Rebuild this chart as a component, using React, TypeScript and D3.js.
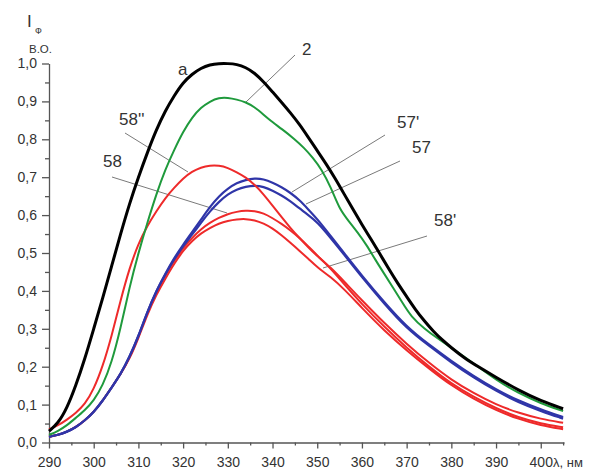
import * as d3 from "d3";
import { useEffect, useRef } from "react";

// wavelength grid (nm) and intensity values
const blackX = [290, 292, 294, 296, 298, 300, 302, 304, 306, 308, 310, 312, 314, 316, 318, 320, 322, 324, 326, 328, 330, 332, 334, 336, 338, 340, 342, 344, 346, 348, 350, 352, 354, 356, 358, 360, 362, 364, 366, 368, 370, 372, 374, 376, 378, 380, 383, 386, 390, 395, 400, 405];
const blackY = [0.03, 0.05, 0.09, 0.15, 0.22, 0.3, 0.38, 0.465, 0.55, 0.63, 0.7, 0.765, 0.825, 0.875, 0.915, 0.95, 0.972, 0.988, 0.997, 1.0, 1.0, 0.998, 0.99, 0.975, 0.952, 0.925, 0.898, 0.87, 0.84, 0.805, 0.77, 0.735, 0.697, 0.656, 0.615, 0.575, 0.537, 0.498, 0.458, 0.42, 0.385, 0.35, 0.32, 0.293, 0.27, 0.25, 0.222, 0.2, 0.172, 0.138, 0.11, 0.089];

const greenX = [290, 292, 294, 296, 298, 300, 302, 304, 306, 308, 310, 312, 314, 316, 318, 320, 322, 324, 326, 328, 330, 332, 334, 336, 338, 340, 342, 345, 347, 349, 351, 353, 355, 357, 359, 361, 363, 365, 367, 369, 371, 374, 377, 380, 386, 390, 395, 400, 405];
const greenY = [0.02, 0.03, 0.045, 0.065, 0.085, 0.11, 0.15, 0.21, 0.3, 0.41, 0.5, 0.58, 0.655, 0.72, 0.772, 0.82, 0.858, 0.884, 0.9, 0.91, 0.91, 0.905, 0.898, 0.885, 0.865, 0.845, 0.828, 0.8, 0.778, 0.752, 0.72, 0.675, 0.615, 0.585, 0.555, 0.522, 0.482, 0.445, 0.408, 0.37, 0.332, 0.3, 0.274, 0.25, 0.2, 0.165, 0.13, 0.103, 0.083];

const red58ppX = [290, 292, 294, 296, 298, 300, 302, 304, 306, 308, 310, 312, 314, 316, 318, 320, 322, 324, 326, 328, 330, 332, 334, 336, 338, 340, 342, 344, 346, 348, 350, 353, 356, 360, 365, 370, 375, 380, 385, 390, 395, 400, 405];
const red58ppY = [0.035, 0.045, 0.06, 0.078, 0.1, 0.14, 0.2, 0.28, 0.375, 0.46, 0.525, 0.572, 0.61, 0.645, 0.672, 0.697, 0.715, 0.726, 0.731, 0.731, 0.725, 0.713, 0.7, 0.68, 0.655, 0.625, 0.595, 0.566, 0.54, 0.515, 0.492, 0.462, 0.425, 0.375, 0.315, 0.26, 0.21, 0.165, 0.13, 0.1, 0.078, 0.062, 0.052];

const lowX = [290, 292, 294, 296, 298, 300, 302, 304, 306, 308, 310, 312, 314, 316, 318, 320, 322, 324, 326, 328, 330, 332, 334, 336, 338, 340, 342, 344, 346, 348, 350, 353, 356, 360, 365, 370, 375, 380, 385, 390, 395, 400, 405];
const blue57pY = [0.015, 0.02, 0.028, 0.04, 0.058, 0.08, 0.11, 0.145, 0.18, 0.225, 0.28, 0.345, 0.4, 0.445, 0.487, 0.522, 0.555, 0.588, 0.622, 0.65, 0.67, 0.685, 0.693, 0.697, 0.695, 0.686, 0.674, 0.659, 0.64, 0.615, 0.59, 0.545, 0.5, 0.44, 0.37, 0.305, 0.258, 0.215, 0.175, 0.14, 0.11, 0.087, 0.067];
const blue57Y = [0.015, 0.02, 0.028, 0.04, 0.058, 0.08, 0.11, 0.145, 0.18, 0.225, 0.28, 0.345, 0.4, 0.443, 0.484, 0.518, 0.548, 0.58, 0.61, 0.635, 0.655, 0.668, 0.675, 0.678, 0.675, 0.665, 0.652, 0.637, 0.618, 0.6, 0.582, 0.54, 0.496, 0.436, 0.366, 0.301, 0.255, 0.211, 0.171, 0.136, 0.106, 0.083, 0.063];
const red58pY = [0.015, 0.02, 0.028, 0.04, 0.058, 0.08, 0.11, 0.145, 0.18, 0.222, 0.278, 0.342, 0.398, 0.44, 0.48, 0.513, 0.54, 0.563, 0.58, 0.593, 0.603, 0.609, 0.612, 0.611, 0.605, 0.592, 0.577, 0.56, 0.54, 0.518, 0.493, 0.46, 0.418, 0.365, 0.305, 0.25, 0.2, 0.155, 0.12, 0.09, 0.066, 0.05, 0.04];
const red58Y = [0.015, 0.02, 0.028, 0.04, 0.058, 0.08, 0.11, 0.145, 0.18, 0.22, 0.275, 0.338, 0.39, 0.432, 0.472, 0.506, 0.532, 0.552, 0.566, 0.578, 0.585, 0.589, 0.59, 0.587, 0.578, 0.565, 0.547, 0.527, 0.506, 0.485, 0.462, 0.437, 0.405, 0.355, 0.295, 0.243, 0.195, 0.15, 0.115, 0.085, 0.062, 0.045, 0.035];

const xTicks = [290, 300, 310, 320, 330, 340, 350, 360, 370, 380, 390, 400];
const yTicks = [0, 0.1, 0.2, 0.3, 0.4, 0.5, 0.6, 0.7, 0.8, 0.9, 1.0];

// curve labels
const labelNames = ["a", "2", "58''", "58", "57'", "57", "58'"];

export default function App() {
  const ref = useRef<SVGSVGElement>(null);
  document.body.style.margin = "0";

  useEffect(() => {
    const svg = d3.select(ref.current);
    svg.selectAll("*").remove();

    const x = d3.scaleLinear().domain([290, 405.2]).range([49, 564]);
    const y = d3.scaleLinear().domain([0, 1]).range([442.5, 63.5]);
    const font = "'Liberation Sans', Arial, sans-serif";
    const axisColor = "#555";

    // x axis
    const gx = svg.append("g").attr("transform", `translate(0,${y(0)})`);
    gx.call(d3.axisBottom(x).tickValues(d3.range(295, 406, 10)).tickSize(3).tickFormat(() => "").tickSizeOuter(0));
    gx.call((g) => g.select(".domain").remove());
    const gx2 = svg.append("g").attr("transform", `translate(0,${y(0)})`);
    gx2.call(d3.axisBottom(x).tickValues(xTicks).tickSize(6).tickSizeOuter(0).tickFormat((d) => String(d)));
    gx2.selectAll("text").attr("y", 14.5).attr("font-size", 14).attr("font-family", font).attr("fill", "#333");

    // y axis
    const gy = svg.append("g").attr("transform", `translate(${x(290)},0)`);
    gy.call(d3.axisLeft(y).tickValues(d3.range(0.05, 1, 0.1)).tickSize(4).tickFormat(() => "").tickSizeOuter(0));
    gy.call((g) => g.select(".domain").remove());
    const gy2 = svg.append("g").attr("transform", `translate(${x(290)},0)`);
    gy2.call(d3.axisLeft(y).tickValues(yTicks).tickSize(7).tickSizeOuter(0).tickFormat((d) => d3.format(".1f")(d as number).replace(".", ",")));
    gy2.selectAll("text").attr("x", -12).attr("font-size", 14).attr("font-family", font).attr("fill", "#333");
    svg.selectAll("g line, g path").attr("stroke", axisColor).attr("stroke-width", 1.3);

    // axis titles
    const t = svg.append("g").attr("font-family", font).attr("fill", "#333");
    t.append("text").attr("x", 27).attr("y", 27).attr("font-size", 17).text("I");
    t.append("text").attr("x", 35).attr("y", 34).attr("font-size", 9).text("Ф");
    t.append("text").attr("x", 29).attr("y", 53).attr("font-size", 11.5).text("В.О.");
    t.append("text").attr("x", 553).attr("y", 467).attr("font-size", 13).text("λ, нм");

    // leader lines
    const leaders = [
      { from: [295, 55], to: [246, 102] },
      { from: [125, 133], to: [188, 172] },
      { from: [112, 177], to: [227, 213] },
      { from: [385, 135], to: [292, 192] },
      { from: [400, 161], to: [306, 204] },
      { from: [427, 236], to: [323, 268] },
    ];
    svg.append("g").selectAll("line").data(leaders).join("line")
      .attr("x1", (d) => d.from[0]).attr("y1", (d) => d.from[1])
      .attr("x2", (d) => d.to[0]).attr("y2", (d) => d.to[1])
      .attr("stroke", "#7a7a7a").attr("stroke-width", 1);

    const line = d3.line<[number, number]>().x((d) => x(d[0])).y((d) => y(d[1])).curve(d3.curveBasis);
    const zip = (xs: number[], ys: number[]) => xs.map((v, i) => [v, ys[i]] as [number, number]);

    const series = [
      { xs: lowX, ys: red58Y, color: "#ee2a2a", w: 2 },
      { xs: lowX, ys: red58pY, color: "#ee2a2a", w: 2 },
      { xs: lowX, ys: blue57Y, color: "#2f35a8", w: 2.2 },
      { xs: lowX, ys: blue57pY, color: "#2f35a8", w: 2.2 },
      { xs: red58ppX, ys: red58ppY, color: "#ee2a2a", w: 2 },
      { xs: greenX, ys: greenY, color: "#1f9a3c", w: 2 },
      { xs: blackX, ys: blackY, color: "#000", w: 3 },
    ];
    svg.append("g").selectAll("path").data(series).join("path")
      .attr("d", (d) => line(zip(d.xs, d.ys)))
      .attr("fill", "none")
      .attr("stroke", (d) => d.color)
      .attr("stroke-width", (d) => d.w)
      .attr("stroke-linejoin", "round");

    // curve labels
    const labelPos = [[178, 75], [302, 55], [119, 125], [103, 167], [397, 128], [412, 153], [434, 226]];
    svg.append("g").selectAll("text").data(labelNames).join("text")
      .attr("x", (_, i) => labelPos[i][0]).attr("y", (_, i) => labelPos[i][1])
      .attr("font-family", font).attr("font-size", 17).attr("fill", "#333")
      .text((d) => d);
  }, []);

  return <svg ref={ref} width={600} height={469} style={{ display: "block", background: "#fff" }} />;
}
